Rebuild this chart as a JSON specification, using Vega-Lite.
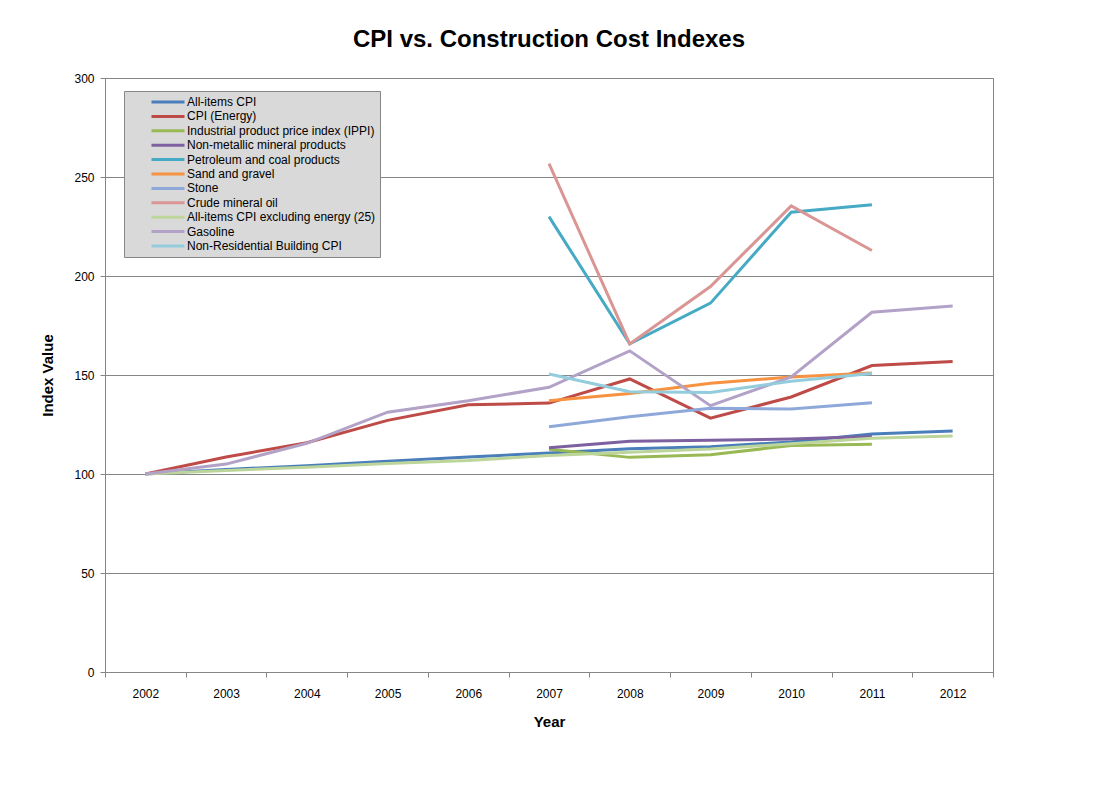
{
  "$schema": "https://vega.github.io/schema/vega-lite/v6.json",
  "width": 888,
  "height": 594,
  "autosize": {"type": "none"},
  "padding": {"left": 105, "top": 78, "right": 105, "bottom": 129},
  "background": "white",
  "title": {"text": "CPI vs. Construction Cost Indexes", "fontSize": 24, "font": "Liberation Sans", "fontWeight": "bold", "color": "#000000", "offset": 20, "anchor": "middle"},
  "config": {
    "view": {"stroke": "#868686", "strokeWidth": 1},
    "font": "Liberation Sans"
  },
  "data": {"values": [
    {"Year": "2002", "Series": "All-items CPI", "Value": 100},
    {"Year": "2003", "Series": "All-items CPI", "Value": 102.3},
    {"Year": "2004", "Series": "All-items CPI", "Value": 104.2},
    {"Year": "2005", "Series": "All-items CPI", "Value": 106.4},
    {"Year": "2006", "Series": "All-items CPI", "Value": 108.6},
    {"Year": "2007", "Series": "All-items CPI", "Value": 110.6},
    {"Year": "2008", "Series": "All-items CPI", "Value": 112.8},
    {"Year": "2009", "Series": "All-items CPI", "Value": 113.8},
    {"Year": "2010", "Series": "All-items CPI", "Value": 116.2},
    {"Year": "2011", "Series": "All-items CPI", "Value": 120.2},
    {"Year": "2012", "Series": "All-items CPI", "Value": 121.7},
    {"Year": "2002", "Series": "CPI (Energy)", "Value": 100},
    {"Year": "2003", "Series": "CPI (Energy)", "Value": 108.6},
    {"Year": "2004", "Series": "CPI (Energy)", "Value": 115.8},
    {"Year": "2005", "Series": "CPI (Energy)", "Value": 127.1},
    {"Year": "2006", "Series": "CPI (Energy)", "Value": 135.0},
    {"Year": "2007", "Series": "CPI (Energy)", "Value": 135.8},
    {"Year": "2008", "Series": "CPI (Energy)", "Value": 148.0},
    {"Year": "2009", "Series": "CPI (Energy)", "Value": 128.2},
    {"Year": "2010", "Series": "CPI (Energy)", "Value": 138.9},
    {"Year": "2011", "Series": "CPI (Energy)", "Value": 154.8},
    {"Year": "2012", "Series": "CPI (Energy)", "Value": 156.8},
    {"Year": "2007", "Series": "Industrial product price index (IPPI)", "Value": 112.5},
    {"Year": "2008", "Series": "Industrial product price index (IPPI)", "Value": 108.4},
    {"Year": "2009", "Series": "Industrial product price index (IPPI)", "Value": 109.7},
    {"Year": "2010", "Series": "Industrial product price index (IPPI)", "Value": 114.4},
    {"Year": "2011", "Series": "Industrial product price index (IPPI)", "Value": 115.0},
    {"Year": "2007", "Series": "Non-metallic mineral products", "Value": 113.3},
    {"Year": "2008", "Series": "Non-metallic mineral products", "Value": 116.6},
    {"Year": "2009", "Series": "Non-metallic mineral products", "Value": 117.0},
    {"Year": "2010", "Series": "Non-metallic mineral products", "Value": 117.7},
    {"Year": "2011", "Series": "Non-metallic mineral products", "Value": 118.9},
    {"Year": "2007", "Series": "Petroleum and coal products", "Value": 230.0},
    {"Year": "2008", "Series": "Petroleum and coal products", "Value": 165.7},
    {"Year": "2009", "Series": "Petroleum and coal products", "Value": 186.3},
    {"Year": "2010", "Series": "Petroleum and coal products", "Value": 232.2},
    {"Year": "2011", "Series": "Petroleum and coal products", "Value": 236.0},
    {"Year": "2007", "Series": "Sand and gravel", "Value": 137.0},
    {"Year": "2008", "Series": "Sand and gravel", "Value": 140.7},
    {"Year": "2009", "Series": "Sand and gravel", "Value": 145.8},
    {"Year": "2010", "Series": "Sand and gravel", "Value": 149.0},
    {"Year": "2011", "Series": "Sand and gravel", "Value": 151.0},
    {"Year": "2007", "Series": "Stone", "Value": 123.9},
    {"Year": "2008", "Series": "Stone", "Value": 128.9},
    {"Year": "2009", "Series": "Stone", "Value": 133.2},
    {"Year": "2010", "Series": "Stone", "Value": 132.8},
    {"Year": "2011", "Series": "Stone", "Value": 136.0},
    {"Year": "2007", "Series": "Crude mineral oil", "Value": 256.8},
    {"Year": "2008", "Series": "Crude mineral oil", "Value": 165.7},
    {"Year": "2009", "Series": "Crude mineral oil", "Value": 194.7},
    {"Year": "2010", "Series": "Crude mineral oil", "Value": 235.4},
    {"Year": "2011", "Series": "Crude mineral oil", "Value": 212.9},
    {"Year": "2002", "Series": "All-items CPI excluding energy (25)", "Value": 100},
    {"Year": "2003", "Series": "All-items CPI excluding energy (25)", "Value": 101.8},
    {"Year": "2004", "Series": "All-items CPI excluding energy (25)", "Value": 103.4},
    {"Year": "2005", "Series": "All-items CPI excluding energy (25)", "Value": 105.3},
    {"Year": "2006", "Series": "All-items CPI excluding energy (25)", "Value": 106.8},
    {"Year": "2007", "Series": "All-items CPI excluding energy (25)", "Value": 109.4},
    {"Year": "2008", "Series": "All-items CPI excluding energy (25)", "Value": 111.0},
    {"Year": "2009", "Series": "All-items CPI excluding energy (25)", "Value": 112.6},
    {"Year": "2010", "Series": "All-items CPI excluding energy (25)", "Value": 115.3},
    {"Year": "2011", "Series": "All-items CPI excluding energy (25)", "Value": 118.0},
    {"Year": "2012", "Series": "All-items CPI excluding energy (25)", "Value": 119.2},
    {"Year": "2002", "Series": "Gasoline", "Value": 100},
    {"Year": "2003", "Series": "Gasoline", "Value": 105.0},
    {"Year": "2004", "Series": "Gasoline", "Value": 115.5},
    {"Year": "2005", "Series": "Gasoline", "Value": 131.2},
    {"Year": "2006", "Series": "Gasoline", "Value": 137.0},
    {"Year": "2007", "Series": "Gasoline", "Value": 143.8},
    {"Year": "2008", "Series": "Gasoline", "Value": 162.2},
    {"Year": "2009", "Series": "Gasoline", "Value": 134.5},
    {"Year": "2010", "Series": "Gasoline", "Value": 149.0},
    {"Year": "2011", "Series": "Gasoline", "Value": 181.7},
    {"Year": "2012", "Series": "Gasoline", "Value": 184.8},
    {"Year": "2007", "Series": "Non-Residential Building CPI", "Value": 150.5},
    {"Year": "2008", "Series": "Non-Residential Building CPI", "Value": 141.6},
    {"Year": "2009", "Series": "Non-Residential Building CPI", "Value": 141.2},
    {"Year": "2010", "Series": "Non-Residential Building CPI", "Value": 146.8},
    {"Year": "2011", "Series": "Non-Residential Building CPI", "Value": 150.7}
  ]},
  "mark": {"type": "line", "strokeWidth": 3},
  "encoding": {
    "x": {
      "field": "Year", "type": "ordinal",
      "scale": {"type": "band", "paddingInner": 0, "paddingOuter": 0},
      "axis": {
        "title": "Year", "titleFontSize": 15, "titleFontWeight": "bold", "titleColor": "#000", "titlePadding": 15,
        "labelAngle": 0, "labelFontSize": 12, "labelColor": "#000", "labelPadding": 11,
        "tickBand": "extent", "tickColor": "#868686", "tickSize": 5, "domainColor": "#868686", "grid": false
      }
    },
    "y": {
      "field": "Value", "type": "quantitative",
      "scale": {"domain": [0, 300], "nice": false},
      "axis": {
        "title": "Index Value", "titleFontSize": 15, "titleFontWeight": "bold", "titleColor": "#000", "titlePadding": 18,
        "values": [0, 50, 100, 150, 200, 250, 300], "labelFontSize": 12, "labelColor": "#000", "labelPadding": 6,
        "tickColor": "#868686", "tickSize": 5, "domainColor": "#868686", "gridColor": "#868686", "gridOpacity": 1
      }
    },
    "color": {
      "field": "Series", "type": "nominal",
      "scale": {
        "domain": ["All-items CPI", "CPI (Energy)", "Industrial product price index (IPPI)", "Non-metallic mineral products", "Petroleum and coal products", "Sand and gravel", "Stone", "Crude mineral oil", "All-items CPI excluding energy (25)", "Gasoline", "Non-Residential Building CPI"],
        "range": ["#4A7EBB", "#BE4B48", "#98B954", "#7D60A0", "#46AAC5", "#F69240", "#8EA9D9", "#D99694", "#BCD59A", "#B3A2C7", "#93CDDD"]
      },
      "legend": {
        "orient": "none", "legendX": 19, "legendY": 13,
        "title": null, "symbolType": "M-3,0H3", "symbolStrokeWidth": 3, "symbolSize": 121,
        "labelFontSize": 12, "labelColor": "#000", "labelLimit": 400, "rowPadding": 1.4,
        "fillColor": "#D9D9D9", "strokeColor": "#868686", "padding": 4, "symbolOffset": 33, "labelOffset": 12
      }
    }
  }
}
